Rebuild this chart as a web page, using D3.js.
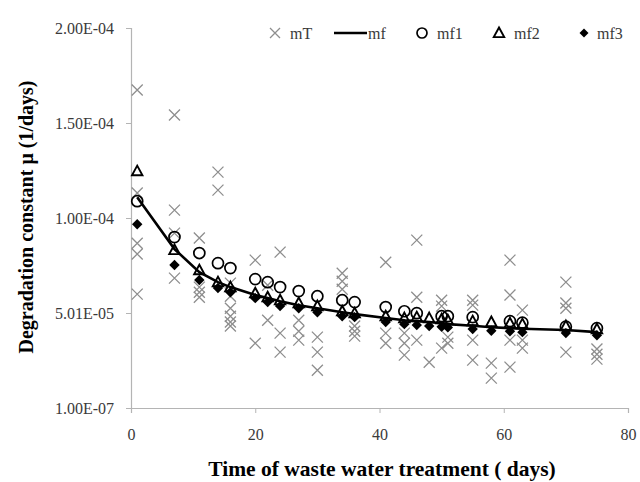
<!DOCTYPE html>
<html>
<head>
<meta charset="utf-8">
<script src="https://cdn.jsdelivr.net/npm/d3@7"></script>
<style>
  body { margin: 0; background: #fff; }
  text { font-family: "Liberation Serif", "Times New Roman", serif; }
</style>
</head>
<body>
<svg id="chart"></svg>
<script>
// Data (values in units of 1e-5 1/days)
const days = [1, 7, 11, 14, 16, 20, 22, 24, 27, 30, 34, 36, 41, 44, 46, 48, 50, 51, 55, 58, 61, 63, 70, 75];
const mfValues  = [11.10, 8.37, 7.16, 6.63, 6.37, 5.95, 5.79, 5.63, 5.42, 5.26, 5.05, 4.95, 4.74, 4.63, 4.58, 4.53, 4.47, 4.42, 4.34, 4.26, 4.21, 4.18, 4.11, 4.00];
const mf1Values = [10.89, 9.00, 8.16, 7.63, 7.37, 6.79, 6.63, 6.37, 6.16, 5.89, 5.68, 5.58, 5.32, 5.10, 5.00, null, 4.84, 4.84, 4.79, null, 4.58, 4.50, 4.29, 4.21];
const mf2Values = [12.47, 8.32, 7.26, 6.63, 6.37, 6.05, 5.84, 5.68, 5.53, 5.37, 5.10, 5.00, 4.84, 4.74, 4.79, 4.74, 4.68, 4.63, 4.58, 4.53, 4.47, 4.42, 4.32, 4.16];
const mf3Values = [9.68, 7.53, 6.74, 6.32, 6.10, 5.79, 5.58, 5.37, 5.26, 5.05, 4.84, 4.79, 4.53, 4.42, 4.37, 4.32, 4.28, 4.25, 4.16, 4.07, 4.05, 4.00, 3.95, 3.84];
const mTValues = [
  [16.74, 11.32, 8.68, 8.11, 6.00],
  [15.42, 10.42, 9.21, 6.84],
  [8.95, 6.37, 6.10, 5.84],
  [12.42, 11.47],
  [6.58, 5.89, 5.26, 4.84, 4.53, 4.32],
  [7.79, 3.42],
  [6.47, 4.63],
  [8.21, 3.95, 2.95],
  [4.63, 4.05, 3.58],
  [3.74, 2.95, 2.00],
  [7.10, 6.68, 6.26],
  [4.32, 4.05, 3.79],
  [7.68, 3.95, 3.42],
  [3.95, 3.42, 2.79],
  [8.84, 5.84, 3.58],
  [2.42],
  [5.68, 5.37, 3.16],
  [3.74, 3.42],
  [5.68, 5.42, 3.58, 2.53],
  [2.37, 1.58],
  [7.79, 5.95, 3.58, 2.16],
  [5.16, 3.58, 3.16],
  [6.63, 5.53, 5.26, 2.95],
  [3.11, 2.84, 2.58]
];
const xTicks = [0, 20, 40, 60, 80];
const yTicks = [0.01, 5.0075, 10.005, 15.0025, 20];

// Size
const width = 640, height = 482;
const svg = d3.select("#chart").attr("width", width).attr("height", height);

// Scales
const x = d3.scaleLinear().domain([0, 80]).range([131, 628]);
const y = d3.scaleLinear().domain([0.01, 20]).range([408, 28]);

// Excel style scientific label, e.g. 5.01E-05
function sciLabel(v) {
  const [m, e] = (v * 1e-5).toExponential(2).split("e");
  const n = Math.abs(+e);
  return m + "E" + (+e < 0 ? "-" : "+") + (n < 10 ? "0" + n : n);
}

// Axes
const yAxis = svg.append("g")
  .attr("transform", `translate(${x(0)},0)`)
  .call(d3.axisLeft(y).tickValues(yTicks).tickFormat(sciLabel).tickSize(5).tickPadding(12));
const xAxis = svg.append("g")
  .attr("transform", `translate(0,${y(0.01)})`)
  .call(d3.axisBottom(x).tickValues(xTicks).tickFormat(d3.format("d")).tickSize(5).tickPadding(16));

[yAxis, xAxis].forEach(a => {
  a.select(".domain").attr("stroke", "#b4b4b4").attr("stroke-width", 1.2);
  a.selectAll(".tick line").attr("stroke", "#b4b4b4");
  a.selectAll(".tick text")
    .attr("font-family", "Liberation Serif, serif")
    .attr("font-size", 16)
    .attr("fill", "#3a3a3a");
});

// Axis titles
svg.append("text")
  .attr("x", 382).attr("y", 476)
  .attr("text-anchor", "middle")
  .attr("font-size", 21.5).attr("font-weight", "bold")
  .text("Time of waste water treatment ( days)");

svg.append("text")
  .attr("transform", "translate(26,217) rotate(-90)")
  .attr("text-anchor", "middle")
  .attr("font-size", 20).attr("font-weight", "bold")
  .attr("dy", "0.35em")
  .text("Degradation constant  \u03bc (1/days)");

// mT crosses
const crossPath = s => `M${-s},${-s}L${s},${s}M${-s},${s}L${s},${-s}`;
const mTPoints = days.flatMap((d, i) => mTValues[i].map(v => ({ day: d, value: v })));
svg.append("g").selectAll("path")
  .data(mTPoints)
  .enter().append("path")
  .attr("transform", d => `translate(${x(d.day)},${y(d.value)})`)
  .attr("d", crossPath(5.5))
  .attr("stroke", "#8e8e8e")
  .attr("stroke-width", 1.3)
  .attr("fill", "none");

// mf fitted line
const line = d3.line().x((d, i) => x(days[i])).y(d => y(d));
svg.append("path")
  .datum(mfValues)
  .attr("d", line)
  .attr("fill", "none")
  .attr("stroke", "#000")
  .attr("stroke-width", 2.6);

// mf1 circles
svg.append("g").selectAll("circle")
  .data(days.map((d, i) => ({ day: d, value: mf1Values[i] })).filter(d => d.value != null))
  .enter().append("circle")
  .attr("cx", d => x(d.day))
  .attr("cy", d => y(d.value))
  .attr("r", 5.5)
  .attr("fill", "none")
  .attr("stroke", "#000")
  .attr("stroke-width", 1.7);

// mf2 triangles
const triPath = s => `M0,${-s}L${s * 0.95},${s * 0.75}L${-s * 0.95},${s * 0.75}Z`;
svg.append("g").selectAll("path")
  .data(days.map((d, i) => ({ day: d, value: mf2Values[i] })))
  .enter().append("path")
  .attr("transform", d => `translate(${x(d.day)},${y(d.value)})`)
  .attr("d", triPath(5.5))
  .attr("fill", "none")
  .attr("stroke", "#000")
  .attr("stroke-width", 1.9);

// mf3 diamonds
const diamondPath = s => `M0,${-s}L${s},0L0,${s}L${-s},0Z`;
svg.append("g").selectAll("path")
  .data(days.map((d, i) => ({ day: d, value: mf3Values[i] })))
  .enter().append("path")
  .attr("transform", d => `translate(${x(d.day)},${y(d.value)})`)
  .attr("d", diamondPath(5.2))
  .attr("fill", "#000");

// Legend
const legendY = 33;
const legend = svg.append("g").attr("font-size", 16).attr("fill", "#3a3a3a");

legend.append("path").attr("transform", `translate(275,${legendY})`)
  .attr("d", crossPath(5)).attr("stroke", "#8e8e8e").attr("stroke-width", 1.3);
legend.append("text").attr("x", 290).attr("y", legendY).attr("dy", "0.35em").text("mT");

legend.append("line").attr("x1", 334).attr("x2", 367).attr("y1", legendY).attr("y2", legendY)
  .attr("stroke", "#000").attr("stroke-width", 2.6);
legend.append("text").attr("x", 368).attr("y", legendY).attr("dy", "0.35em").text("mf");

legend.append("circle").attr("cx", 422).attr("cy", legendY).attr("r", 5)
  .attr("fill", "none").attr("stroke", "#000").attr("stroke-width", 1.7);
legend.append("text").attr("x", 437).attr("y", legendY).attr("dy", "0.35em").text("mf1");

legend.append("path").attr("transform", `translate(499,${legendY})`)
  .attr("d", triPath(5.5)).attr("fill", "none").attr("stroke", "#000").attr("stroke-width", 1.9);
legend.append("text").attr("x", 514).attr("y", legendY).attr("dy", "0.35em").text("mf2");

legend.append("path").attr("transform", `translate(584,${legendY})`)
  .attr("d", diamondPath(4.5)).attr("fill", "#000");
legend.append("text").attr("x", 597).attr("y", legendY).attr("dy", "0.35em").text("mf3");
</script>
</body>
</html>
